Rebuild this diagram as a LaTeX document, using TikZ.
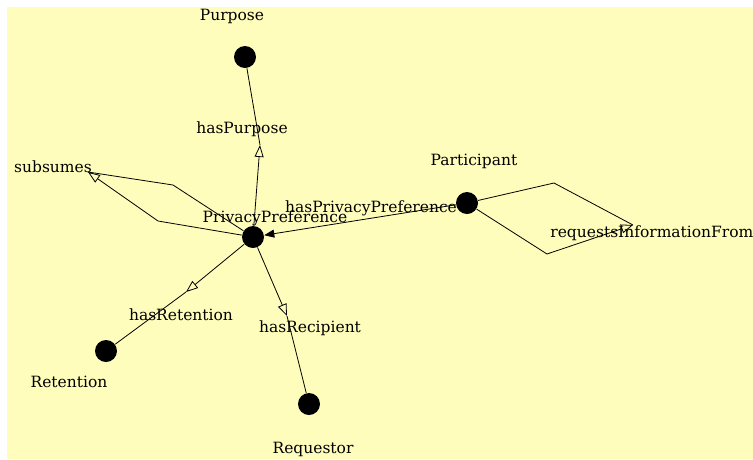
\documentclass[tikz,border=0pt]{standalone}
\usepackage{fontspec}
\setmainfont{DejaVu Serif}
\usetikzlibrary{arrows.meta,positioning}
\definecolor{paper}{RGB}{255,253,187}

\begin{document}
\begin{tikzpicture}[x=1pt,y=-1pt,line width=0.8pt,
  res node/.style={circle,fill=black,inner sep=0pt,minimum size=22pt},
  txt/.style={font=\fontsize{15.5}{18}\selectfont,inner sep=0pt,anchor=base},
  rel/.style={-{Triangle[open,length=12pt,width=9pt]}},
  inv/.style={-{Triangle[length=10pt,width=8pt]}}]
  \useasboundingbox (0,0) rectangle (753,459);
  \fill[paper] (7,7) rectangle (753,459);

  % resources
  \node[res node] (pp) at (253,237) {};
  \node[res node] (pur) at (245,57) {};
  \node[res node] (part) at (467,203) {};
  \node[res node] (ret) at (106,351) {};
  \node[res node] (req) at (309,404) {};

  \node[txt] (ppT) at (275,222) {PrivacyPreference};
  \node[txt] (purT) at (232,20) {Purpose};
  \node[txt] (partT) at (474,165) {Participant};
  \node[txt] (retT) at (69,387) {Retention};
  \node[txt] (reqT) at (313,453) {Requestor};

  % bend points of the edges
  \coordinate (purA) at (260,145);
  \coordinate (retA) at (186,292);
  \coordinate (reqA) at (287,316);
  \coordinate (subU) at (173,185);
  \coordinate (subL) at (158,221);
  \coordinate (subA) at (88,172);
  \coordinate (rifU) at (554,183);
  \coordinate (rifL) at (547,254);
  \coordinate (rifA) at (633,225);

  \node[txt] (hasPur) at (242,133) {hasPurpose};
  \node[txt] (hasRet) at (181,320) {hasRetention};
  \node[txt] (hasRec) at (310,332) {hasRecipient};
  \node[txt] (hasPP) at (371,212) {hasPrivacyPreference};
  \node[txt] (subs) at (53,172) {subsumes};
  \node[txt,anchor=base west] (rif) at (550,237) {requestsInformationFrom};

  \draw[rel] (pp) -- (purA);
  \draw (purA) -- (pur);
  \draw[rel] (pp) -- (retA);
  \draw (retA) -- (ret);
  \draw[rel] (pp) -- (reqA);
  \draw (reqA) -- (req);
  \draw[inv] (part) -- (pp);
  % self loops
  \draw (pp) -- (subU) -- (subA);
  \draw[rel] (pp) -- (subL) -- (subA);
  \draw (part) -- (rifU) -- (rifA);
  \draw[rel] (part) -- (rifL) -- (rifA);
\end{tikzpicture}
\end{document}
